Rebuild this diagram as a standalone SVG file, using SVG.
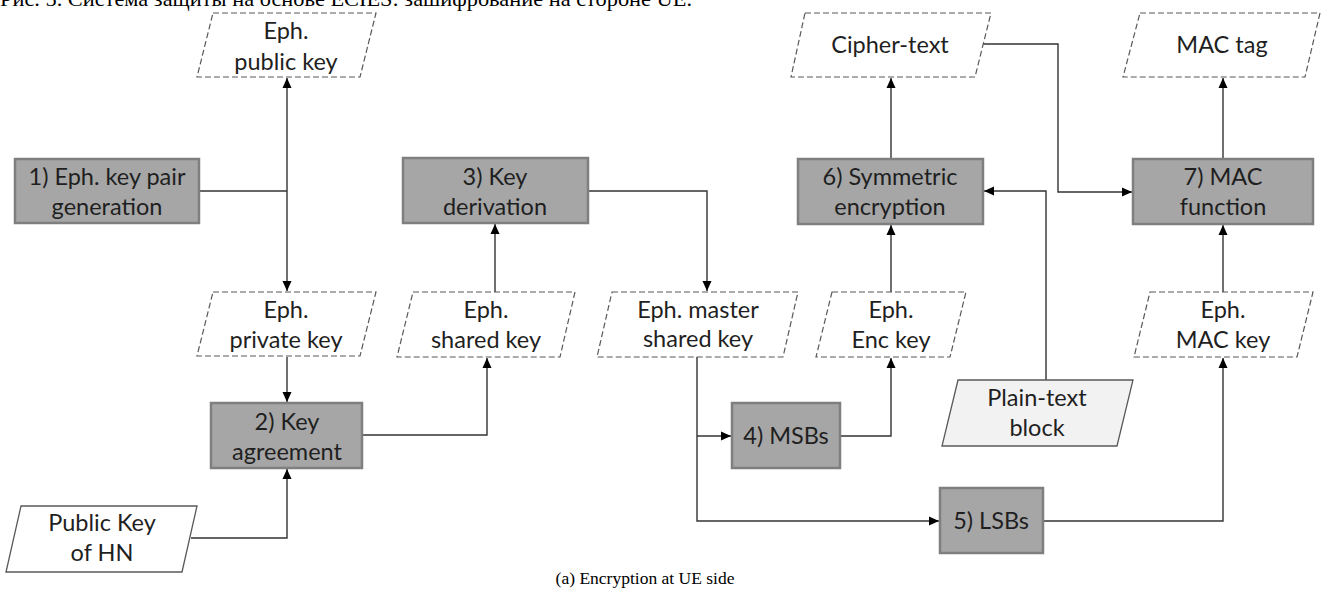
<svg xmlns="http://www.w3.org/2000/svg" width="1327" height="613" viewBox="0 0 1327 613">
<style>
.bg{fill:#ffffff}
.box{fill:#a6a6a6;stroke:#7f7f7f;stroke-width:2.5}
.data{fill:#ffffff;stroke:#595959;stroke-width:1.2;stroke-dasharray:6 3}
.input{fill:#ffffff;stroke:#595959;stroke-width:1.3}
.plain{fill:#f2f2f2;stroke:#595959;stroke-width:1.3}
.t{font-family:Lato,"Open Sans","Liberation Sans",sans-serif;font-size:23.5px;fill:#1f1f1f;text-anchor:middle}
.conn{fill:none;stroke:#333333;stroke-width:1.4}
.title{font-family:"Liberation Serif",serif;font-size:22px;fill:#000}
.cap{font-family:"Liberation Serif",serif;font-size:17.5px;fill:#000;text-anchor:middle}
</style>
<defs>
<marker id="ah" markerUnits="userSpaceOnUse" markerWidth="12" markerHeight="12" viewBox="0 0 12 12" refX="11" refY="6" orient="auto">
<path d="M1,1.5 L11,6 L1,10.5 Z" fill="#000"/>
</marker>
</defs>
<rect class="bg" x="0" y="0" width="1327" height="613"/>
<text class="title" x="0" y="6" textLength="692" lengthAdjust="spacingAndGlyphs">Рис. 5.  Система защиты на основе ECIES: зашифрование на стороне UE.</text>

<g id="connectors">
<path class="conn" d="M199,191 H287"/>
<path class="conn" d="M287,191 V78" marker-end="url(#ah)"/>
<path class="conn" d="M287,191 V291" marker-end="url(#ah)"/>
<path class="conn" d="M287,357 V402" marker-end="url(#ah)"/>
<path class="conn" d="M191,538 H287 V469" marker-end="url(#ah)"/>
<path class="conn" d="M362,435 H487 V358" marker-end="url(#ah)"/>
<path class="conn" d="M495,292 V224" marker-end="url(#ah)"/>
<path class="conn" d="M588,191 H707 V291" marker-end="url(#ah)"/>
<path class="conn" d="M697,357 V521 H939" marker-end="url(#ah)"/>
<path class="conn" d="M697,436 H731" marker-end="url(#ah)"/>
<path class="conn" d="M840,436 H891 V358" marker-end="url(#ah)"/>
<path class="conn" d="M891,292 V225" marker-end="url(#ah)"/>
<path class="conn" d="M891,159 V78" marker-end="url(#ah)"/>
<path class="conn" d="M1046,380 V191 H984" marker-end="url(#ah)"/>
<path class="conn" d="M983,44 H1058 V192 H1132" marker-end="url(#ah)"/>
<path class="conn" d="M1043,521 H1223 V358" marker-end="url(#ah)"/>
<path class="conn" d="M1223,292 V225" marker-end="url(#ah)"/>
<path class="conn" d="M1223,159 V78" marker-end="url(#ah)"/>
</g>

<g id="eph-public-key">
<polygon class="data" points="213,13 376,13 360,77 197,77"/>
<text class="t" x="286" y="39">Eph.</text>
<text class="t" x="286" y="70">public key</text>
</g>
<g id="n1-keypair">
<rect class="box" x="15" y="159" width="184" height="64"/>
<text class="t" x="107" y="185">1) Eph. key pair</text>
<text class="t" x="107" y="215">generation</text>
</g>
<g id="eph-private-key">
<polygon class="data" points="213,292 376,292 360,356 197,356"/>
<text class="t" x="286" y="318">Eph.</text>
<text class="t" x="286" y="348">private key</text>
</g>
<g id="n2-key-agreement">
<rect class="box" x="211" y="403" width="151" height="65"/>
<text class="t" x="287" y="430">2) Key</text>
<text class="t" x="287" y="460">agreement</text>
</g>
<g id="public-key-hn">
<polygon class="input" points="21,506 197,506 182,572 6,572"/>
<text class="t" x="102" y="531">Public Key</text>
<text class="t" x="102" y="561">of HN</text>
</g>
<g id="eph-shared-key">
<polygon class="data" points="413,292 575,292 560,357 397,357"/>
<text class="t" x="486" y="318">Eph.</text>
<text class="t" x="486" y="348">shared key</text>
</g>
<g id="n3-key-derivation">
<rect class="box" x="403" y="158" width="185" height="65"/>
<text class="t" x="495" y="185">3) Key</text>
<text class="t" x="495" y="215">derivation</text>
</g>
<g id="eph-master-key">
<polygon class="data" points="612,292 798,292 783,357 597,357"/>
<text class="t" x="698" y="318">Eph. master</text>
<text class="t" x="698" y="347">shared key</text>
</g>
<g id="n4-msbs">
<rect class="box" x="732" y="403" width="108" height="65"/>
<text class="t" x="786" y="444">4) MSBs</text>
</g>
<g id="n5-lsbs">
<rect class="box" x="940" y="488" width="103" height="65"/>
<text class="t" x="991" y="529">5) LSBs</text>
</g>
<g id="eph-enc-key">
<polygon class="data" points="832,292 966,292 950,357 816,357"/>
<text class="t" x="891" y="318">Eph.</text>
<text class="t" x="891" y="348">Enc key</text>
</g>
<g id="n6-symmetric-encryption">
<rect class="box" x="798" y="159" width="185" height="65"/>
<text class="t" x="890" y="185">6) Symmetric</text>
<text class="t" x="890" y="215">encryption</text>
</g>
<g id="cipher-text">
<polygon class="data" points="805,13 991,13 975,77 791,77"/>
<text class="t" x="890" y="53">Cipher-text</text>
</g>
<g id="plain-text-block">
<polygon class="plain" points="958,380 1133,380 1117,446 942,446"/>
<text class="t" x="1037" y="406">Plain-text</text>
<text class="t" x="1037" y="436">block</text>
</g>
<g id="eph-mac-key">
<polygon class="data" points="1150,292 1313,292 1297,357 1134,357"/>
<text class="t" x="1223" y="318">Eph.</text>
<text class="t" x="1223" y="348">MAC key</text>
</g>
<g id="n7-mac-function">
<rect class="box" x="1133" y="159" width="180" height="65"/>
<text class="t" x="1223" y="185">7) MAC</text>
<text class="t" x="1223" y="215">function</text>
</g>
<g id="mac-tag">
<polygon class="data" points="1140,13 1320,13 1305,77 1123,77"/>
<text class="t" x="1222" y="53">MAC tag</text>
</g>
<text class="cap" x="645" y="584">(a) Encryption at UE side</text>
</svg>
